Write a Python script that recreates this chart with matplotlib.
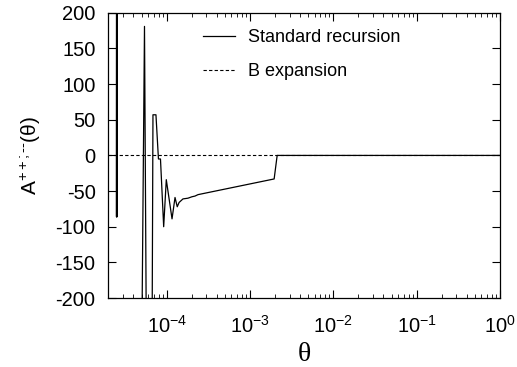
import numpy as np
import matplotlib
matplotlib.use("Agg")
import matplotlib.pyplot as plt
from matplotlib.ticker import LogLocator, MultipleLocator, NullFormatter

plt.rcParams['font.family'] = ['Liberation Sans', 'DejaVu Sans']
plt.rcParams['mathtext.fontset'] = 'custom'
plt.rcParams['mathtext.rm'] = 'Liberation Sans'
plt.rcParams['mathtext.it'] = 'Liberation Sans'
plt.rcParams['axes.unicode_minus'] = False

# standard recursion (nan breaks where the curve leaves the frame)
theta_rec = [2.50e-5, 2.50e-5, 2.515e-5, 2.515e-5, 2.53e-5, 2.53e-5, np.nan,
             4.92e-5, 5.42e-5, 5.80e-5, np.nan,
             6.61e-5, 6.85e-5, 7.44e-5, 7.97e-5, 8.43e-5, 9.21e-5, 9.9e-5,
             1.16e-4, 1.26e-4, 1.34e-4, 1.41e-4, 1.57e-4, 1.80e-4, 2.01e-4,
             2.19e-4, 2.38e-4, 2.88e-4, 1.95e-3, 2.12e-3, 1.0]
A_rec = [400, -86, 400, -86, 400, -86, np.nan,
         -400, 181, -400, np.nan,
         -400, 57, 57, -5, -5, -100, -34,
         -89, -59, -72, -66, -61, -60, -58,
         -57, -55, -53, -33, 0, 0]

# B expansion
theta_b = [2e-5, 1.0]
A_b = [0, 0]

fig = plt.figure(figsize=(5.17, 3.67), dpi=100)
ax = fig.add_axes([0.209, 0.188, 0.758, 0.777])

ax.plot(theta_rec, A_rec, color='black', lw=0.9, label='Standard recursion')
ax.plot(theta_b, A_b, color='black', lw=0.8, ls=(0, (3, 2)), label='B expansion')

ax.set_xscale('log')
ax.set_xlim(1.98e-5, 1.0)
ax.set_ylim(-200, 200)
ax.yaxis.set_major_locator(MultipleLocator(50))
ax.xaxis.set_major_locator(LogLocator(base=10, numticks=10))
ax.xaxis.set_minor_locator(LogLocator(base=10, subs=np.arange(2, 10), numticks=20))
ax.xaxis.set_minor_formatter(NullFormatter())

ax.tick_params(which='both', direction='in', top=True, right=True, labelsize=14.5)
ax.tick_params(which='major', length=6)
ax.tick_params(which='minor', length=3)
ax.tick_params(axis='x', pad=12)
ax.tick_params(axis='y', pad=9)
for s in ax.spines.values():
    s.set_linewidth(0.9)

ax.set_xlabel('θ', fontsize=20, family=['Liberation Serif', 'DejaVu Serif'], labelpad=4)
ax.set_ylabel(r'A$^{\mathrm{++;}\text{--}}$(θ)', fontsize=15)
ax.yaxis.set_label_coords(-0.165, 0.5)

ax.legend(loc='upper left', bbox_to_anchor=(0.2, 1.0), frameon=False, fontsize=13,
          handlelength=1.8, handletextpad=0.7, labelspacing=0.95)

fig.savefig('out.png', dpi=100)
